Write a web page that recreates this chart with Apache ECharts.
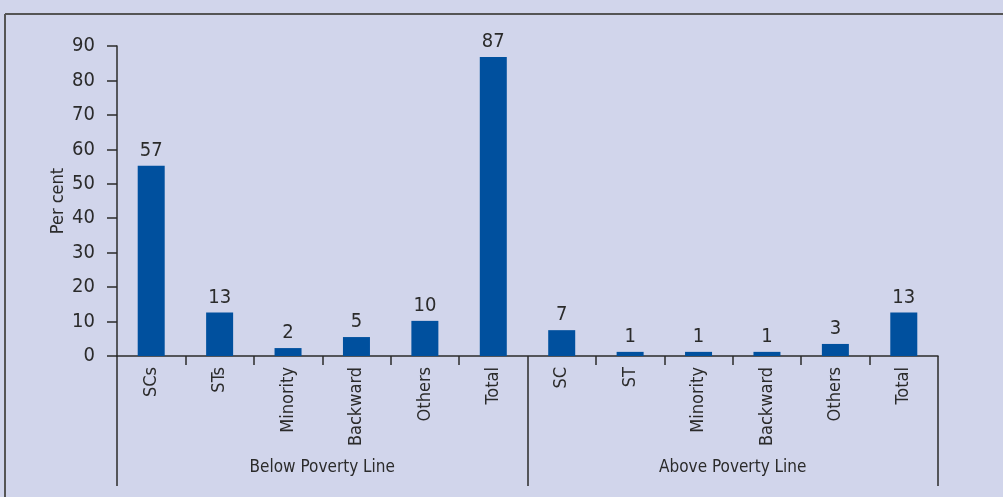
<!DOCTYPE html>
<html><head><meta charset="utf-8">
<script src="https://cdn.jsdelivr.net/npm/echarts@6/dist/echarts.min.js"></script>
<style>html,body{margin:0;padding:0;background:#d1d5eb;}#c{width:1003px;height:497px;}</style>
</head><body><div id="c"></div>
<script>
var categories = ['SCs','STs','Minority','Backward','Others','Total','SC','ST','Minority','Backward','Others','Total'];
var groups = ['Below Poverty Line','Above Poverty Line'];
var barHeights = [55.2, 12.6, 2.3, 5.5, 10.2, 86.8, 7.5, 1.2, 1.2, 1.2, 3.5, 12.6];
var barLabels = ['57','13','2','5','10','87','7','1','1','1','3','13'];
var yTicks = [0,10,20,30,40,50,60,70,80,90];

var FONT = "'Liberation Sans Narrow','DejaVu Sans Condensed','Roboto Condensed',sans-serif";
var TXT = '#2b2b2b';
var chart = echarts.init(document.getElementById('c'), null, {renderer:'canvas'});
chart.setOption({
  backgroundColor:'#d1d5eb',
  animation:false,
  grid:{left:117, right:65, top:46, bottom:141, containLabel:false},
  graphic:[
    {type:'line', shape:{x1:5,y1:14,x2:1003,y2:14}, style:{stroke:'#555',lineWidth:2}},
    {type:'line', shape:{x1:5,y1:14,x2:5,y2:497}, style:{stroke:'#555',lineWidth:2}}
  ],
  xAxis:[{
    type:'category', data:categories, position:'bottom',
    axisLine:{show:true, lineStyle:{color:TXT, width:1.5}},
    axisTick:{show:true, interval:0, length:9, lineStyle:{color:TXT, width:1.5}},
    axisLabel:{interval:0, rotate:90, margin:11, color:TXT, fontFamily:FONT, fontSize:18}
  },{
    type:'category', data:groups, position:'bottom',
    axisLine:{show:false},
    axisTick:{show:true, interval:0, length:130, lineStyle:{color:TXT, width:1.5}},
    axisLabel:{interval:0, margin:103, color:TXT, fontFamily:FONT, fontSize:17}
  }],
  yAxis:{
    type:'value', min:0, max:90, interval:10,
    name:'Per cent', nameLocation:'middle', nameGap:50, nameRotate:90, nameMoveOverlap:false,
    nameTextStyle:{color:TXT, fontFamily:FONT, fontSize:18},
    axisLine:{show:true, lineStyle:{color:TXT, width:1.5}},
    axisTick:{show:true, length:10, lineStyle:{color:TXT, width:1.5}},
    axisLabel:{margin:22, color:TXT, fontFamily:FONT, fontSize:20,
      formatter:function(v){return yTicks.indexOf(v)>=0?String(v):'';}},
    splitLine:{show:false}
  },
  series:[{
    type:'bar', data:barHeights, barWidth:27, xAxisIndex:0,
    itemStyle:{color:'#00509e'},
    label:{show:true, position:'top', distance:5, color:TXT, fontFamily:FONT, fontSize:20,
      formatter:function(p){return barLabels[p.dataIndex];}}
  }]
});
</script></body></html>
